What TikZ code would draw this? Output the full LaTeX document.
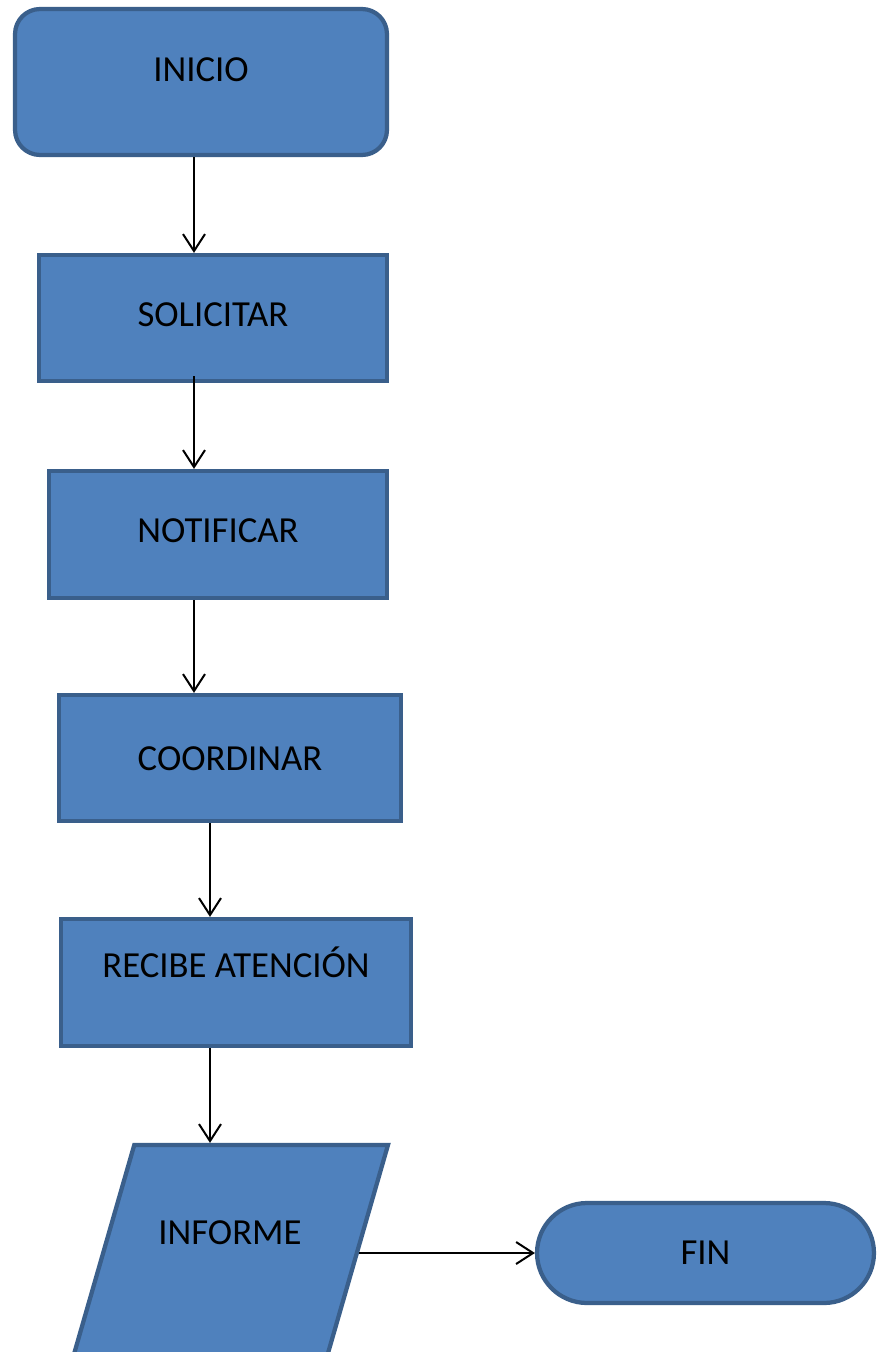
\documentclass[tikz,border=0pt]{standalone}
\usepackage{fontspec}
\setmainfont{Carlito}
\usepackage{xcolor}
\usetikzlibrary{arrows.meta,shapes.geometric,shapes.misc,calc}
\definecolor{cajaazul}{HTML}{4F81BD}
\definecolor{bordeazul}{HTML}{3A5F8B}
\tikzset{
	caja/.style={draw=bordeazul, fill=cajaazul, line width=0.085cm, inner sep=0pt},
	texto/.style={font=\fontsize{20.9}{25}\selectfont, text height=0.46cm, text depth=0pt, inner sep=0pt},
	flecha/.style={line width=0.04cm, -{Straight Barb[length=0.34cm,width=0.44cm]}}
}

\begin{document}
\begin{tikzpicture}[x=0.02cm,y=-0.02cm]
			\useasboundingbox (0,0) rectangle (882,1352);
			\clip (0,0) rectangle (882,1352);
			\coordinate (ejeA) at (194,0);
			\coordinate (ejeB) at (210,0);
			\node[caja, rounded corners=0.5cm, minimum width=7.44cm, minimum height=2.92cm, label={[texto,yshift=0.24cm]center:INICIO}] (inicio) at (201,82) {};
			\node[caja, minimum width=6.96cm, minimum height=2.52cm, label={[texto,yshift=0.06cm]center:SOLICITAR}] (sol) at (213,318) {};
			\node[caja, minimum width=6.76cm, minimum height=2.54cm, label={[texto,yshift=0.07cm]center:NOTIFICAR}] (notif) at (218,534.5) {};
			\node[caja, minimum width=6.84cm, minimum height=2.52cm, label={[texto,yshift=-0.02cm]center:COORDINAR}] (coord) at (230,758) {};
			\node[caja, minimum width=7.00cm, minimum height=2.54cm, label={[texto,yshift=0.33cm]center:RECIBE ATENCIÓN}] (recibe) at (236,982.5) {};
			\node[caja, inner sep=2pt, trapezium, trapezium left angle=72, trapezium right angle=108, trapezium stretches=true, minimum width=6.32cm, minimum height=4.32cm, label={[texto,yshift=0.40cm]center:INFORME}] (informe) at (230,1253) {};
			\node[caja, rounded rectangle, minimum width=6.74cm, minimum height=2.0cm, label={[texto]center:FIN}] (fin) at (705.5,1253) {};
			\draw[flecha] (inicio.south -| ejeA) -- (sol.north -| ejeA);
			\draw[flecha] ($(sol.south -| ejeA)+(0,-7)$) -- (notif.north -| ejeA);
			\draw[flecha] (notif.south -| ejeA) -- (coord.north -| ejeA);
			\draw[flecha] (coord.south -| ejeB) -- (recibe.north -| ejeB);
			\draw[flecha] (recibe.south -| ejeB) -- (informe.north -| ejeB);
			\draw[flecha] (informe.east) -- (fin.west);
		\end{tikzpicture}
\end{document}
